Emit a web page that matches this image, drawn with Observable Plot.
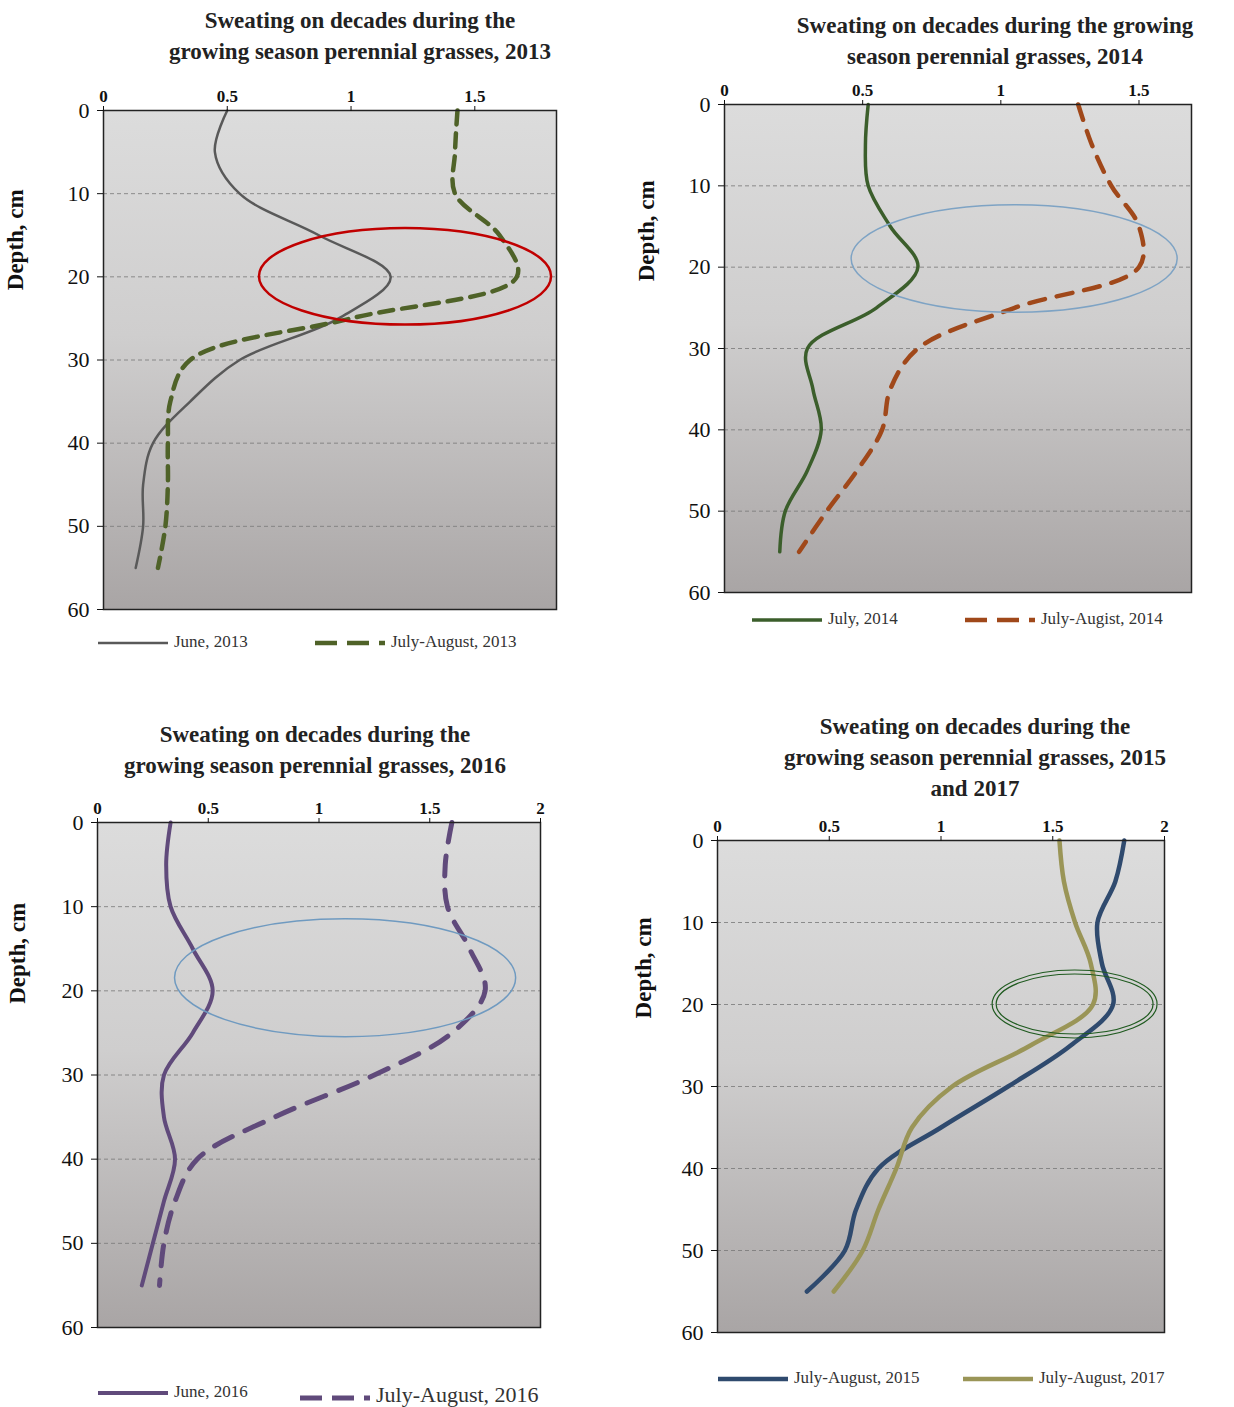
<!DOCTYPE html>
<html><head><meta charset="utf-8">
<script src="https://cdn.jsdelivr.net/npm/d3@7"></script>
<script src="https://cdn.jsdelivr.net/npm/@observablehq/plot@0.6"></script>
<style>
body{margin:0;background:#fff;font-family:"Liberation Serif",serif;}
#root{position:relative;width:1234px;height:1407px;overflow:hidden;}
.t{position:absolute;text-align:center;font-weight:bold;font-size:23px;line-height:31px;color:#222;}
.lg{position:absolute;font-size:17px;color:#333;white-space:nowrap;}
.lg svg{vertical-align:middle;margin-right:6px;}
.p{position:absolute;}
</style></head><body><div id="root"></div>
<script>
const depth = [0,5,10,15,20,25,30,35,40,45,50,55];
const june2013 = [0.5,0.45,0.55,0.87,1.16,0.95,0.55,0.35,0.2,0.16,0.16,0.13];
const julAug2013 = [1.43,1.42,1.42,1.6,1.67,1.0,0.35,0.27,0.26,0.26,0.25,0.22];
const july2014 = [0.52,0.51,0.52,0.6,0.7,0.55,0.3,0.32,0.35,0.3,0.22,0.2];
const julAug2014 = [1.28,1.33,1.4,1.5,1.5,1.05,0.7,0.6,0.57,0.48,0.37,0.27];
const june2016 = [0.33,0.31,0.33,0.43,0.52,0.43,0.3,0.3,0.35,0.3,0.25,0.2];
const julAug2016 = [1.6,1.57,1.58,1.68,1.75,1.6,1.25,0.8,0.45,0.35,0.3,0.28];
const julAug2015 = [1.82,1.78,1.7,1.72,1.77,1.58,1.3,1.0,0.72,0.62,0.57,0.4];
const julAug2017 = [1.53,1.55,1.6,1.67,1.68,1.4,1.05,0.87,0.8,0.72,0.65,0.52];

const panels = [
 {title:"Sweating on decades during  the<br>growing season perennial grasses, 2013", tl:100,tt:5,tw:520,
  L:103,T:110,W:453,H:499,xmax:1.83,ticks:[0,0.5,1,1.5],
  series:[{name:"June, 2013",v:june2013,c:"#595959",w:2.5,dash:null},{name:"July-August, 2013",v:julAug2013,c:"#4f6228",w:4.5,dash:"14,9"}],
  ell:{cx:1.22,cy:20,rx:0.59,ry:5.8,c:"#c00000",w:2.5}, lgT:642, lgL:[98,315], dl:80},
 {title:"Sweating on decades during  the growing<br>season perennial grasses, 2014", tl:755,tt:10,tw:480,
  L:724,T:104,W:467,H:488,xmax:1.69,ticks:[0,0.5,1,1.5],
  series:[{name:"July, 2014",v:july2014,c:"#3b5e2b",w:3.5,dash:null},{name:"July-Augist, 2014",v:julAug2014,c:"#a0481a",w:4.5,dash:"16,12"}],
  ell:{cx:1.05,cy:19,rx:0.59,ry:6.6,c:"#7ea3c4",w:1.5}, lgT:619, lgL:[752,965], dl:70},
 {title:"Sweating on decades during  the<br>growing season perennial grasses, 2016", tl:85,tt:719,tw:460,
  L:97,T:822,W:443,H:505,xmax:2,ticks:[0,0.5,1,1.5,2],
  series:[{name:"June, 2016",v:june2016,c:"#604a7b",w:4,dash:null},{name:"July-August, 2016",v:julAug2016,c:"#604a7b",w:5,dash:"20,14"}],
  ell:{cx:1.12,cy:18.5,rx:0.77,ry:7,c:"#6f9ac0",w:1.5}, lgT:1392, lgL:[98,300], dl:72},
 {title:"Sweating on decades during  the<br>growing season perennial grasses, 2015<br>and 2017", tl:740,tt:711,tw:470,
  L:717,T:840,W:447,H:492,xmax:2,ticks:[0,0.5,1,1.5,2],
  series:[{name:"July-August, 2015",v:julAug2015,c:"#2f4a6e",w:4.5,dash:null},{name:"July-August, 2017",v:julAug2017,c:"#9a9557",w:4.5,dash:null}],
  ell:{cx:1.6,cy:20,rx:0.36,ry:3.9,c:"#1f5a1f",w:1.5,double:true}, lgT:1378, lgL:[718,963], dl:66}
];

const root = d3.select("#root");
panels.forEach((p,i)=>{
  root.append("div").attr("class","t").style("left",p.tl+"px").style("top",p.tt+"px").style("width",p.tw+"px").html(p.title);
  const mL=100, mT=30, mR=12, mB=4;
  const marks = [
    Plot.frame({fill:`url(#grad${i})`}),
    Plot.gridY([10,20,30,40,50],{stroke:"#777",strokeOpacity:1,strokeDasharray:"4,3",strokeWidth:0.8}),
    ...p.series.map(s=>Plot.line(depth.map((d,j)=>({d,v:s.v[j]})),{x:"v",y:"d",curve:"catmull-rom",stroke:s.c,strokeWidth:s.w,strokeDasharray:s.dash})),
    Plot.frame({stroke:"#222",strokeWidth:1.5}),
    Plot.axisX(p.ticks,{anchor:"top",tickSize:5,fontSize:17,fontWeight:"bold",label:null,tickFormat:d=>String(d)}),
    Plot.axisY([0,10,20,30,40,50,60],{anchor:"left",tickSize:6,fontSize:22,tickPadding:8,label:null,tickFormat:d=>String(d)})
  ];
  const chart = Plot.plot({
    width:p.W+mL+mR, height:p.H+mT+mB, marginLeft:mL, marginTop:mT, marginRight:mR, marginBottom:mB,
    x:{domain:[0,p.xmax]}, y:{domain:[0,60],reverse:true},
    style:{fontFamily:"Liberation Serif",color:"#111",background:"transparent",overflow:"visible"},
    marks
  });
  const svg = d3.select(chart);
  const g = svg.insert("defs",":first-child").append("linearGradient").attr("id","grad"+i).attr("x1",0).attr("x2",0).attr("y1",0).attr("y2",1);
  g.append("stop").attr("offset","0%").attr("stop-color","#dcdcdc");
  g.append("stop").attr("offset","45%").attr("stop-color","#cfcece");
  g.append("stop").attr("offset","100%").attr("stop-color","#a9a5a5");
  const sx = chart.scale("x"), sy = chart.scale("y");
  const e = p.ell;
  const draw = (k,w,c)=>svg.append("ellipse").attr("cx",sx.apply(e.cx)).attr("cy",sy.apply(e.cy))
    .attr("rx",Math.abs(sx.apply(e.rx)-sx.apply(0))+k).attr("ry",Math.abs(sy.apply(e.ry)-sy.apply(0))+k)
    .attr("fill","none").attr("stroke",c).attr("stroke-width",w);
  if(e.double){draw(2,1.2,e.c);draw(-2,1.2,e.c);} else draw(0,e.w,e.c);
  svg.append("text").attr("transform",`translate(${mL-p.dl},${mT+p.H*0.26}) rotate(-90)`).attr("text-anchor","middle")
    .attr("font-size",23).attr("font-weight","bold").attr("font-family","Liberation Serif").text("Depth, cm");
  root.append("div").attr("class","p").style("left",(p.L-mL)+"px").style("top",(p.T-mT)+"px").node().appendChild(chart);
  p.series.forEach((s,j)=>{
    const d = root.append("div").attr("class","lg").style("left",p.lgL[j]+"px").style("top",(p.lgT-10)+"px");
    const ls = d.append("svg").attr("width",70).attr("height",10);
    ls.append("line").attr("x1",0).attr("x2",70).attr("y1",5).attr("y2",5).attr("stroke",s.c).attr("stroke-width",s.w)
      .attr("stroke-dasharray",s.dash?"22,10":null);
    d.append("span").text(s.name).style("font-size", i==2&&j==1?"22px":"17px");
  });
});
</script></body></html>
